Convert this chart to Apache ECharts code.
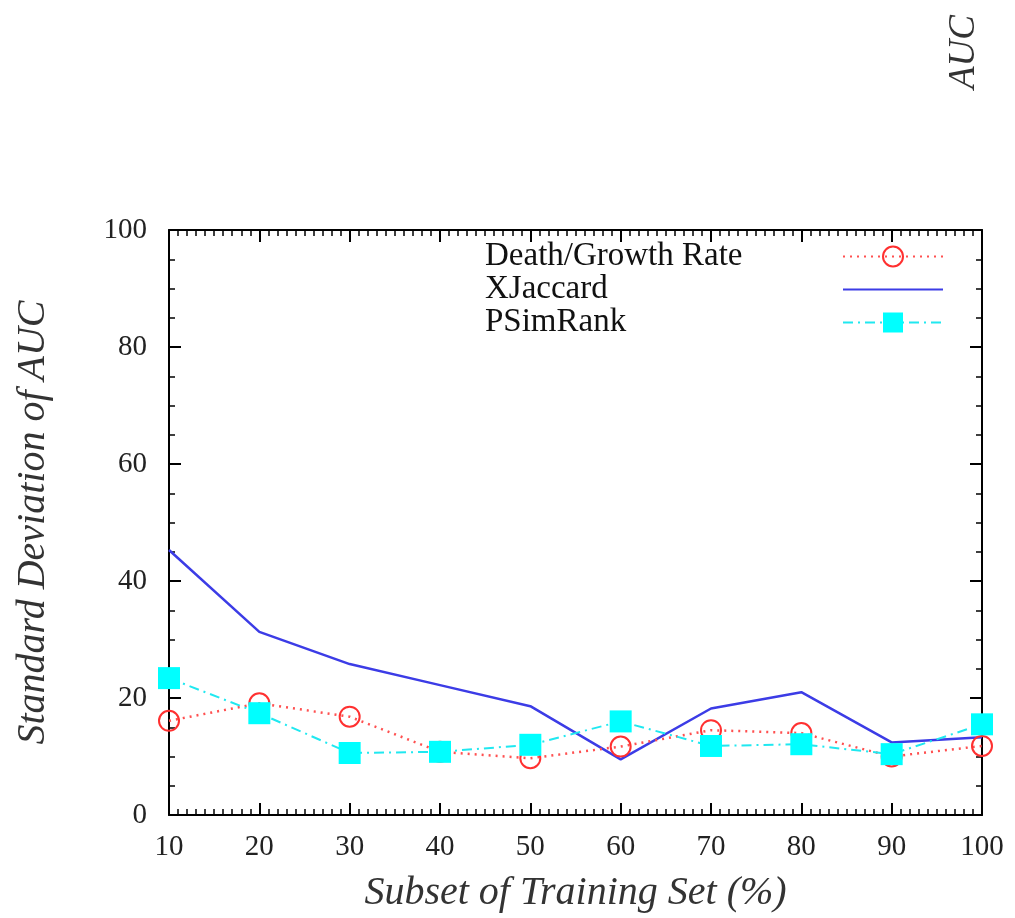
<!DOCTYPE html>
<html>
<head>
<meta charset="utf-8">
<script src="https://cdn.jsdelivr.net/npm/echarts@6/dist/echarts.min.js"></script>
<style>html,body{margin:0;padding:0;background:#fff;}#c{width:1015px;height:918px;}</style>
</head>
<body>
<div id="c"></div>
<script>
const xValues = [10, 20, 30, 40, 50, 60, 70, 80, 90, 100];
const deathGrowth = [16.1, 19.1, 16.8, 10.8, 9.7, 11.7, 14.5, 14.0, 10.0, 11.8];
const xJaccard = [45.3, 31.3, 25.8, 22.2, 18.6, 9.5, 18.2, 21.0, 12.4, 13.3];
const pSimRank = [23.4, 17.4, 10.6, 10.8, 12.0, 16.0, 11.8, 12.1, 10.4, 15.5];
const seriesNames = ['Death/Growth Rate', 'XJaccard', 'PSimRank'];
const yTitle = 'Standard Deviation of AUC';
const xTitle = 'Subset of Training Set (%)';
const cornerText = 'AUC';

const pairs = arr => xValues.map((x, i) => [x, arr[i]]);
const font = '"Liberation Serif", "DejaVu Serif", serif';
const chart = echarts.init(document.getElementById('c'));

const axisCommon = {
  axisLine: { show: true, onZero: false, lineStyle: { color: '#000', width: 2 } },
  axisTick: { show: true, inside: true, length: 12, lineStyle: { color: '#000', width: 2 } },
  minorTick: { show: true, length: 6, lineStyle: { color: '#000', width: 1.5 } },
  splitLine: { show: false }
};

chart.setOption({
  animation: false,
  backgroundColor: '#fff',
  textStyle: { fontFamily: font },
  grid: { left: 169, right: 33, top: 230, bottom: 103 },
  legend: {
    orient: 'vertical',
    left: 485, top: 240,
    align: 'right',
    padding: 0,
    itemWidth: 100, itemHeight: 25,
    itemGap: 0,
    data: [
      { name: seriesNames[0] },
      { name: seriesNames[1], itemStyle: { color: 'rgba(0,0,0,0)', borderColor: 'rgba(0,0,0,0)', borderWidth: 0 } },
      { name: seriesNames[2] }
    ],
    formatter: name => '{t|' + name + '}',
    textStyle: {
      fontFamily: font, fontSize: 33, color: '#111',
      rich: { t: { width: 353, height: 33, lineHeight: 33, align: 'left', fontFamily: font, fontSize: 33, color: '#111' } }
    },
    selectedMode: false
  },
  xAxis: [
    Object.assign({}, axisCommon, {
      type: 'value', min: 10, max: 100, interval: 10, position: 'bottom',
      minorTick: Object.assign({}, axisCommon.minorTick, { splitNumber: 10 }),
      axisLabel: { fontFamily: font, fontSize: 29, color: '#222', margin: 18 },
      name: xTitle, nameLocation: 'middle', nameGap: 58,
      nameTextStyle: { fontFamily: font, fontSize: 40, fontStyle: 'italic', color: '#333' }
    }),
    Object.assign({}, axisCommon, {
      type: 'value', min: 10, max: 100, interval: 10, position: 'top',
      minorTick: Object.assign({}, axisCommon.minorTick, { splitNumber: 10 }),
      axisLabel: { show: false }
    })
  ],
  yAxis: [
    Object.assign({}, axisCommon, {
      type: 'value', min: 0, max: 100, interval: 20, position: 'left',
      minorTick: Object.assign({}, axisCommon.minorTick, { splitNumber: 4 }),
      axisLabel: { fontFamily: font, fontSize: 29, color: '#222', margin: 22 },
      name: yTitle, nameLocation: 'middle', nameGap: 116, nameRotate: 90,
      nameTextStyle: { fontFamily: font, fontSize: 40, fontStyle: 'italic', color: '#333' }
    }),
    Object.assign({}, axisCommon, {
      type: 'value', min: 0, max: 100, interval: 20, position: 'right',
      minorTick: Object.assign({}, axisCommon.minorTick, { splitNumber: 4 }),
      axisLabel: { show: false }
    })
  ],
  graphic: [{
    type: 'text', x: 964, y: 52, rotation: Math.PI / 2,
    style: { text: cornerText, fontFamily: font, fontSize: 37, fontStyle: 'italic', fill: '#333', align: 'center', verticalAlign: 'middle' }
  }],
  series: [
    {
      name: seriesNames[0], type: 'line', data: pairs(deathGrowth), z: 3,
      symbol: 'circle', symbolSize: 20,
      itemStyle: { color: 'rgba(255,255,255,0)', borderColor: '#ff3030', borderWidth: 2 },
      lineStyle: { color: '#ff5050', width: 2.5, type: [2, 5] }
    },
    {
      name: seriesNames[1], type: 'line', data: pairs(xJaccard), z: 2,
      symbol: 'none', showSymbol: false,
      itemStyle: { color: '#3c3ce6' },
      lineStyle: { color: '#3c3ce6', width: 2.5 }
    },
    {
      name: seriesNames[2], type: 'line', data: pairs(pSimRank), z: 4,
      symbol: 'rect', symbolSize: 22,
      itemStyle: { color: '#00ffff' },
      lineStyle: { color: '#20e8f0', width: 2, type: [10, 5, 2, 5] }
    }
  ]
});
</script>
</body>
</html>
